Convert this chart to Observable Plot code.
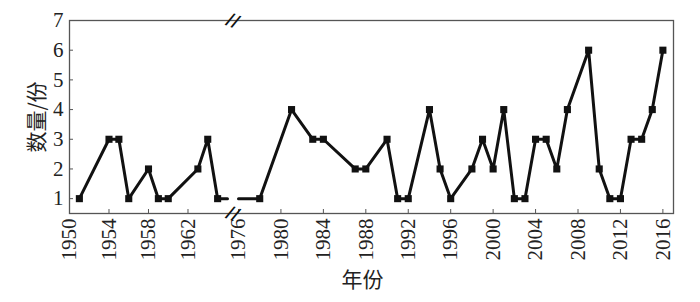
<!DOCTYPE html>
<html><head><meta charset="utf-8">
<script src="https://cdn.jsdelivr.net/npm/d3@7"></script>
<script src="https://cdn.jsdelivr.net/npm/@observablehq/plot@0.6"></script>
<style>
body{margin:0;background:#fff}
g[aria-label="x-axis tick label"], g[aria-label="y-axis tick label"],
g[aria-label="x-axis tick label"] text, g[aria-label="y-axis tick label"] text {font-family: "Liberation Serif", "Times New Roman", serif !important;}
</style>
</head><body><div id="chart"></div>
<script>
// Data (years with counts), split by the axis break
const years1 = [1951,1954,1955,1956,1958,1959,1960,1963,1964,1965];
const values1 = [1,3,3,1,2,1,1,2,3,1];
const years2 = [1978,1981,1983,1984,1987,1988,1990,1991,1992,1994,1995,1996,1998,1999,2000,2001,2002,2003,2004,2005,2006,2007,2009,2010,2011,2012,2013,2014,2015,2016];
const values2 = [1,4,3,3,2,2,3,1,1,4,2,1,2,3,2,4,1,1,3,3,2,4,6,2,1,1,3,3,4,6];
// line stubs running into the axis break (no markers)
const leftStub = [1966, 1];
const rightStub = [1976, 1];
const xTicks = [1950,1954,1958,1962,1976,1980,1984,1988,1992,1996,2000,2004,2008,2012,2016];
const yTicks = [1,2,3,4,5,6,7];
const yDomain = [0.5, 7];
const xTitle = "年份";
const yTitle = "数量/份";

// broken-axis mapping: 1950–1966 and 1976–2017 on one continuous scale
const seg1 = [1950, 1966], seg2 = [1976, 2017];
const k1 = 9.875, k2 = 10.61, gap = 11;
const bx = yr => yr <= seg1[1] ? (yr - seg1[0]) * k1 : (seg1[1] - seg1[0]) * k1 + gap + (yr - seg2[0]) * k2;
const xMax = bx(seg2[1]);
const breakX = (seg1[1] - seg1[0]) * k1 + gap / 2;

const pts1 = years1.map((x, i) => ({x: bx(x), y: values1[i]}));
const pts2 = years2.map((x, i) => ({x: bx(x), y: values2[i]}));
const line1 = [...pts1, {x: bx(leftStub[0]), y: leftStub[1]}];
const line2 = [{x: bx(rightStub[0]), y: rightStub[1]}, ...pts2];
const breaks = [{x: breakX, y: yDomain[1]}, {x: breakX, y: yDomain[0]}];

const W = 700, H = 302, mL = 69, mR = 27, mT = 20, mB = 89;
const serif = "Liberation Serif";
const cjk = "Noto Sans CJK SC";

const chart = Plot.plot({
  width: W, height: H,
  marginLeft: mL, marginRight: mR, marginTop: mT, marginBottom: mB,
  style: {background: "#fff", color: "#222", fontSize: "21px"},
  x: {domain: [0, xMax]},
  y: {domain: yDomain},
  marks: [
    Plot.frame({stroke: "#555", strokeWidth: 1.3}),
    Plot.axisX({ticks: xTicks.map(bx), tickFormat: (d, i) => String(xTicks[i]), tickRotate: -90, tickSize: -4, tickPadding: 9,
      fontSize: 21, fontFamily: serif, label: null, stroke: "#555"}),
    Plot.axisY({ticks: yTicks, tickFormat: d => String(d), tickSize: -4, tickPadding: 10, fontSize: 21, fontFamily: serif, label: null, stroke: "#555"}),
    Plot.line(line1, {x: "x", y: "y", stroke: "#111", strokeWidth: 3, strokeLinejoin: "miter"}),
    Plot.line(line2, {x: "x", y: "y", stroke: "#111", strokeWidth: 3, strokeLinejoin: "miter"}),
    Plot.dot(pts1, {x: "x", y: "y", symbol: "square", r: 4, fill: "#111"}),
    Plot.dot(pts2, {x: "x", y: "y", symbol: "square", r: 4, fill: "#111"}),
    Plot.text(breaks, {x: "x", y: "y", text: () => "//", rotate: 22, fontSize: 17, fontWeight: "bold", fontFamily: "DejaVu Sans", fill: "#111"}),
    Plot.text([xTitle], {frameAnchor: "bottom", lineAnchor: "middle", dy: 67, dx: -9, text: d => d, fontSize: 21, fontFamily: cjk, fill: "#222"}),
    Plot.text([yTitle], {frameAnchor: "left", textAnchor: "middle", lineAnchor: "middle", dx: -32, rotate: -90, text: d => d, fontSize: 21, fontFamily: cjk, fill: "#222"})
  ]
});
document.getElementById("chart").appendChild(chart);
</script>
</body></html>
